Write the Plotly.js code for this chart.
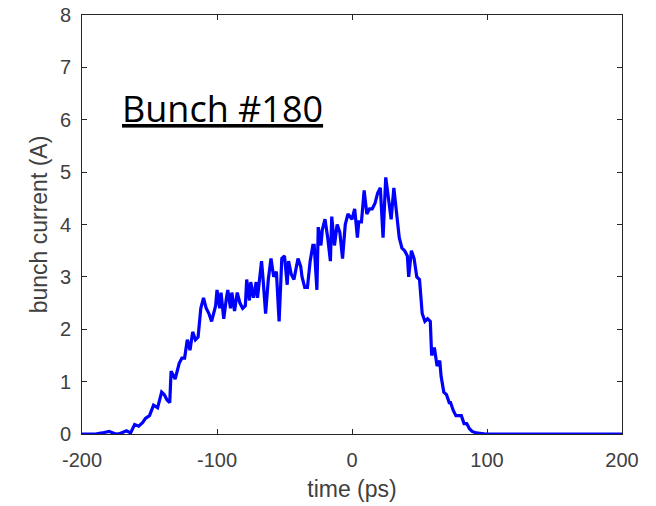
<!DOCTYPE html>
<html>
<head>
<meta charset="utf-8">
<script src="https://cdn.plot.ly/plotly-3.0.1.min.js"></script>
<style>html,body{margin:0;padding:0;background:#fff;}#chart{width:656px;height:506px;}</style>
</head>
<body>
<div id="chart"></div>
<script>
const timePs = [-200,-190,-185,-180,-176,-173,-170,-167,-164,-161,-158,-155,-153,-150,-147,-144,-141,-139,-137,-135,-134,-131,-128,-126,-124,-122,-120,-118,-116,-114,-112,-110,-108,-106,-104,-101,-100,-98,-97,-95,-93,-92,-90,-89,-87,-85,-83,-81,-79,-78,-76,-75,-73,-71,-70,-67,-66,-64,-62,-60,-58,-56,-54,-52,-50,-48,-47,-45,-43,-40,-38,-37,-35,-33,-31,-29,-28,-26,-25,-23,-22,-20,-18,-16,-15,-13,-11,-9,-7,-5,-3,0,2,4,5,7,9,11,13,15,17,19,21,23,25,27,29,31,33,35,37,39,41,42,44,46,48,50,52,54,56,58,59,61,63,65,66,68,70,72,73,75,77,79,81,83,85,87,89,92,96,99,105,200];
const currentA = [0,0,0.02,0.05,0.01,0,0.03,0.06,0.02,0.18,0.15,0.22,0.3,0.35,0.55,0.5,0.8,0.75,0.65,0.6,1.2,1.05,1.35,1.45,1.45,1.8,1.6,1.95,1.8,1.85,2.4,2.6,2.4,2.3,2.15,2.45,2.75,2.4,2.7,2.2,2.6,2.75,2.4,2.7,2.35,2.7,2.5,2.4,2.45,2.95,2.55,2.9,2.6,2.9,2.6,3.3,3.0,2.3,2.95,3.35,3.0,3.1,2.15,3.35,3.4,2.85,3.3,3.05,2.95,3.35,3.2,3.0,2.8,2.8,3.3,3.6,3.6,2.75,3.95,3.6,3.9,4.1,3.75,3.3,4.15,3.6,4.0,3.85,3.35,4.0,4.2,4.1,4.3,3.75,4.05,4.05,4.65,4.2,4.3,4.3,4.4,4.6,4.7,3.75,4.9,4.5,4.1,4.7,4.2,3.75,3.55,3.5,3.4,3.0,3.5,3.35,3.0,2.95,2.3,2.15,2.2,2.15,1.5,1.65,1.3,1.4,1.1,0.8,0.75,0.6,0.6,0.45,0.35,0.35,0.35,0.2,0.2,0.1,0.05,0.02,0,0,0,0];
const xTicks = [-200,-100,0,100,200];
const yTicks = [0,1,2,3,4,5,6,7,8];
const labelText = 'Bunch #180';

const FONT = 'Liberation Sans, Arial, sans-serif';
const axisCommon = {
  showgrid:false, zeroline:false, showline:true, linecolor:'#262626', linewidth:1,
  mirror:'ticks', ticks:'inside', ticklen:5, tickcolor:'#262626',
  tickfont:{family:FONT, size:20, color:'#404040'}
};
const layout = {
  width:656, height:506,
  margin:{l:82, r:34, t:15, b:72},
  paper_bgcolor:'#fff', plot_bgcolor:'#fff',
  showlegend:false,
  xaxis:Object.assign({}, axisCommon, {range:[-200,200], tickvals:xTicks, ticktext:xTicks.map(String),
    ticklabelstandoff:8,
    title:{text:'time (ps)', font:{family:FONT, size:23, color:'#404040'}, standoff:10}}),
  yaxis:Object.assign({}, axisCommon, {range:[0,8], tickvals:yTicks, ticktext:yTicks.map(String),
    ticklabelstandoff:6,
    title:{text:'bunch current (A)', font:{family:FONT, size:23, color:'#404040'}, standoff:5}}),
  annotations:[{
    xref:'paper', yref:'paper', x:0.071, y:0.778, xanchor:'left', yanchor:'middle',
    text:'<u>'+labelText+'</u>', showarrow:false,
    font:{family:'Open Sans, Noto Sans, sans-serif', size:36, color:'#000'}
  }]
};
Plotly.newPlot('chart', [{
  x:timePs, y:currentA, type:'scatter', mode:'lines',
  line:{color:'#0000ff', width:3.2}
}], layout, {staticPlot:true, displayModeBar:false});
</script>
</body>
</html>
